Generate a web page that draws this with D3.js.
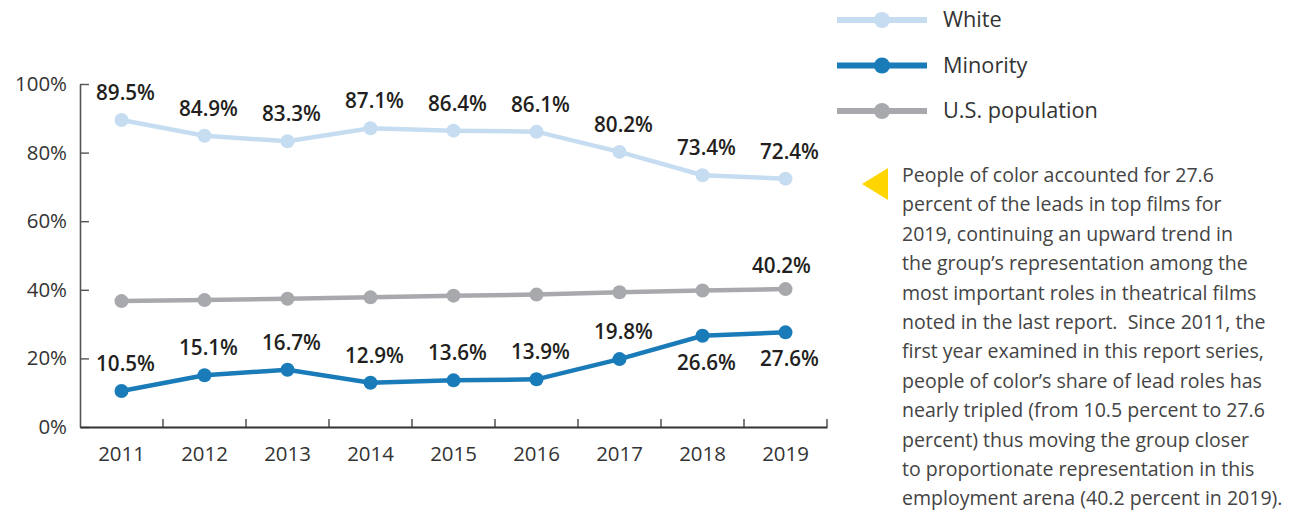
<!DOCTYPE html>
<html><head><meta charset="utf-8">
<script src="https://cdn.jsdelivr.net/npm/d3@7"></script>
<style>
html,body{margin:0;padding:0;background:#fff;}
svg{display:block;font-family:"Open Sans", Lato, sans-serif;}
</style></head>
<body><svg id="c" width="1289" height="510"></svg>
<script>
const years = ["2011","2012","2013","2014","2015","2016","2017","2018","2019"];
const white = [89.5,84.9,83.3,87.1,86.4,86.1,80.2,73.4,72.4];
const minority = [10.5,15.1,16.7,12.9,13.6,13.9,19.8,26.6,27.6];
const usPop = [36.7,37.0,37.4,37.8,38.3,38.6,39.3,39.8,40.2];
const yTicks = [0,20,40,60,80,100];
const seriesNames = ["White","Minority","U.S. population"];
const minorityLabelPos = ["above","above","above","above","above","above","above","below","below"];
const noteLines = [
 "People of color accounted for 27.6",
 "percent of the leads in top films for",
 "2019, continuing an upward trend in",
 "the group\u2019s representation among the",
 "most important roles in theatrical films",
 "noted in the last report.  Since 2011, the",
 "first year examined in this report series,",
 "people of color\u2019s share of lead roles has",
 "nearly tripled (from 10.5 percent to 27.6",
 "percent) thus moving the group closer",
 "to proportionate representation in this",
 "employment arena (40.2 percent in 2019)."
];

const colors = {"White":"#c6ddf1","Minority":"#1a7bb9","U.S. population":"#a8a9ad"};
const svg = d3.select("#c");
const x = d3.scaleBand().domain(years).range([80,827]);
const y = d3.scaleLinear().domain([0,100]).range([427,84]);

function fitSize(str, target, weight){
  const t = svg.append("text").attr("font-size",20).attr("font-weight",weight||400).style("white-space","pre").text(str);
  const w = t.node().getComputedTextLength(); t.remove();
  return 20*target/w;
}
const tickSize = fitSize("100%",52);
const labSize = fitSize("89.5%",59,600);
const legSize = fitSize("U.S. population",155);
const noteSize = fitSize(noteLines[0],312);

// y axis
const gy = svg.append("g").attr("transform","translate(80,0)")
 .call(d3.axisLeft(y).tickValues(yTicks).tickFormat(d=>d+"%").tickSize(-9).tickSizeOuter(0).tickPadding(13));
gy.select(".domain").attr("stroke","#555").attr("stroke-width",1.6);
gy.selectAll(".tick line").attr("stroke","#555").attr("stroke-width",1.4);
gy.selectAll("text").attr("font-size",tickSize).attr("fill","#333").attr("font-family","'Open Sans', sans-serif");

// x axis
const gx = svg.append("g").attr("transform","translate(0,427)")
 .call(d3.axisBottom(x).tickSize(0).tickPadding(19).tickSizeOuter(0));
gx.select(".domain").attr("stroke","#333").attr("stroke-width",2);
gx.selectAll("text").attr("font-size",tickSize).attr("fill","#333").attr("font-family","'Open Sans', sans-serif");
const bounds = years.slice(1).map(d=>x(d)).concat([x(years[years.length-1])+x.bandwidth()]);
svg.append("g").selectAll("line").data(bounds).join("line")
 .attr("x1",d=>d).attr("x2",d=>d).attr("y1",427).attr("y2",419)
 .attr("stroke","#444").attr("stroke-width",1.4);

const cx = d=>x(d)+x.bandwidth()/2;
const line = d3.line().x((d,i)=>cx(years[i])).y(d=>y(d));
const data = [["U.S. population",usPop],["White",white],["Minority",minority]];
data.forEach(([name,vals])=>{
  svg.append("path").datum(vals).attr("d",line).attr("fill","none")
   .attr("stroke",colors[name]).attr("stroke-width",4.5);
  svg.append("g").selectAll("circle").data(vals).join("circle")
   .attr("cx",(d,i)=>cx(years[i])).attr("cy",d=>y(d)).attr("r",7).attr("fill",colors[name]);
});

const labDx = 4;
const lab = svg.append("g").attr("font-size",labSize).attr("font-weight",600).attr("fill","#231f20").attr("text-anchor","middle");
white.forEach((v,i)=>{
  lab.append("text").attr("x",cx(years[i])+labDx).attr("y",y(v)-20).text(v.toFixed(1)+"%");
});
minority.forEach((v,i)=>{
  const below = minorityLabelPos[i]==="below";
  lab.append("text").attr("x",cx(years[i])+labDx).attr("y",below? y(v)+34 : y(v)-20).text(v.toFixed(1)+"%");
});
lab.append("text").attr("x",cx(years[8])-4).attr("y",y(usPop[8])-16).text(usPop[8].toFixed(1)+"%");

// legend
const leg = svg.append("g");
seriesNames.forEach((n,i)=>{
  const ly = 20 + i*45.5;
  leg.append("line").attr("x1",837).attr("x2",927).attr("y1",ly).attr("y2",ly).attr("stroke",colors[n]).attr("stroke-width",6);
  leg.append("circle").attr("cx",882).attr("cy",ly).attr("r",8).attr("fill",colors[n]);
  leg.append("text").attr("x",943).attr("y",ly+7).attr("font-size",legSize).attr("fill","#333").text(n);
});

// annotation
svg.append("path").attr("d","M862,184 L888,168 L888,200 Z").attr("fill","#ffd500");
svg.append("g").selectAll("text").data(noteLines).join("text")
 .attr("x",902).attr("y",(d,i)=>182+i*29.4).attr("font-size",noteSize).attr("fill","#444")
 .style("white-space","pre").text(d=>d);
</script></body></html>
